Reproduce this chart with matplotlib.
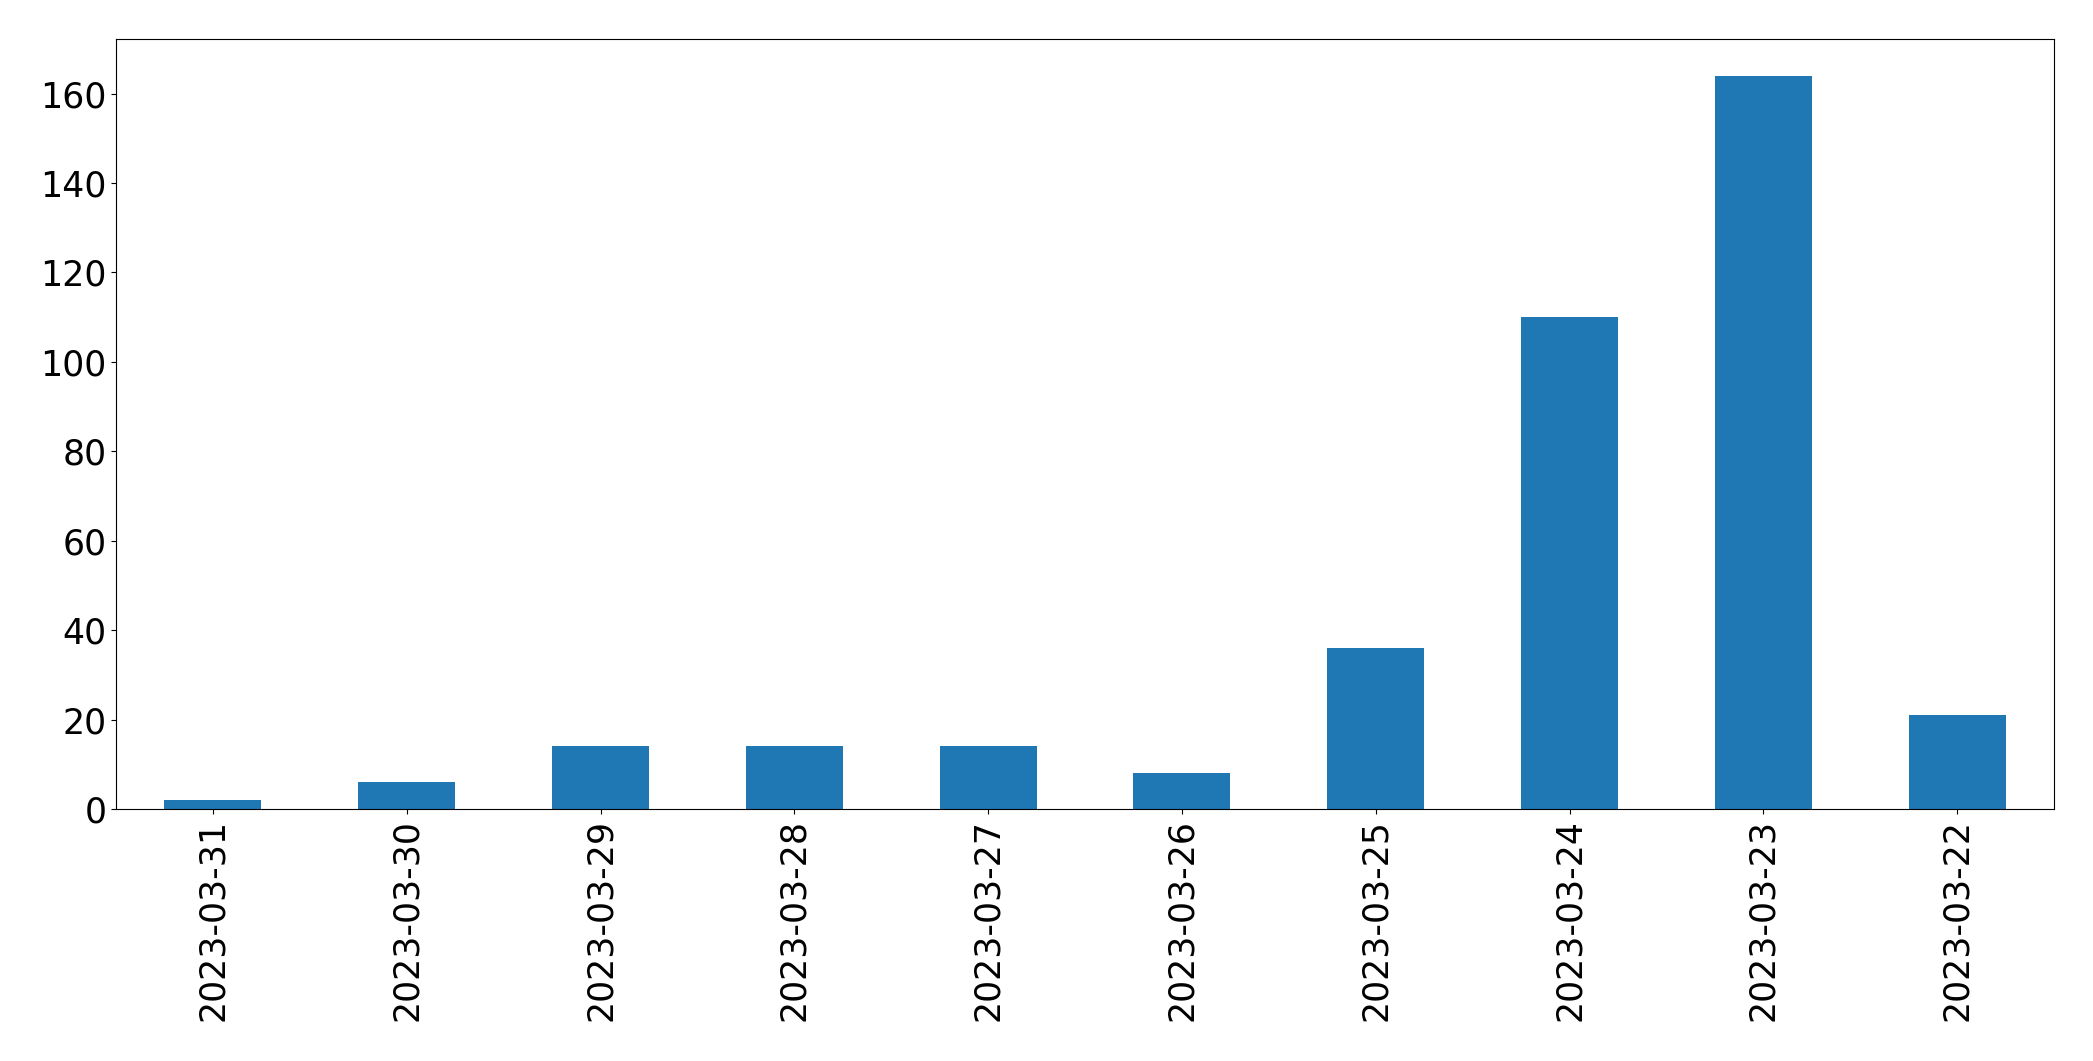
import pandas as pd
from matplotlib import pyplot as plt

# dates, newest first as in the source
dates = ['2023-03-31', '2023-03-30', '2023-03-29', '2023-03-28', '2023-03-27',
         '2023-03-26', '2023-03-25', '2023-03-24', '2023-03-23', '2023-03-22']
counts = [2, 6, 14, 14, 14, 8, 36, 110, 164, 21]

s = pd.Series(counts, index=dates)

fig, ax = plt.subplots(figsize=(20.93, 10.61), dpi=100)
s.plot(kind='bar', ax=ax, fontsize=25, color='#1f77b4')
plt.subplots_adjust(left=116/2093, right=2054/2093, top=1-39/1061, bottom=1-809/1061)

fig.savefig('out.png', dpi=100)
